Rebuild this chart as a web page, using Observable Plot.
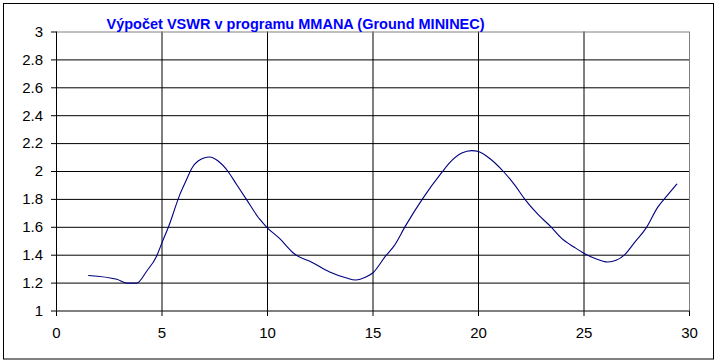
<!DOCTYPE html>
<html>
<head>
<meta charset="utf-8">
<script src="https://cdn.jsdelivr.net/npm/d3@7"></script>
<script src="https://cdn.jsdelivr.net/npm/@observablehq/plot@0.6"></script>
<style>
  html, body { margin: 0; padding: 0; background: #fff; }
  #chart svg { display: block; }
</style>
</head>
<body>
<div id="chart"></div>
<script>
const title = "Výpočet VSWR v programu MMANA (Ground MININEC)";
const freq = [1.52, 2.86, 3.33, 3.8, 4.28, 4.75, 5.0, 5.3, 5.85, 6.17, 6.4, 6.71, 7.26, 7.66, 8.13, 8.52, 9.0, 9.62, 9.97, 10.57, 11.27, 12.14, 12.92, 13.71, 14.18, 14.66, 15.0, 15.6, 16.0, 16.54, 17.33, 18.27, 18.66, 19.21, 19.68, 20.0, 20.47, 21.18, 21.73, 22.2, 22.83, 23.46, 23.93, 24.56, 24.95, 25.5, 26.13, 26.52, 26.92, 27.39, 27.94, 28.49, 28.96, 29.4];
const vswr = [1.255, 1.227, 1.2, 1.2, 1.287, 1.395, 1.49, 1.6, 1.836, 1.944, 2.02, 2.075, 2.104, 2.075, 2.0, 1.91, 1.80, 1.66, 1.60, 1.52, 1.41, 1.346, 1.281, 1.238, 1.222, 1.243, 1.274, 1.395, 1.467, 1.61, 1.80, 1.995, 2.067, 2.132, 2.15, 2.143, 2.10, 2.0, 1.90, 1.80, 1.69, 1.60, 1.522, 1.455, 1.418, 1.378, 1.351, 1.363, 1.402, 1.49, 1.594, 1.743, 1.83, 1.91];
const xTicks = [0, 5, 10, 15, 20, 25, 30];
const xTickLabels = ["0", "5", "10", "15", "20", "25", "30"];
const yTicks = [1, 1.2, 1.4, 1.6, 1.8, 2, 2.2, 2.4, 2.6, 2.8, 3];
const yTickLabels = ["1", "1.2", "1.4", "1.6", "1.8", "2", "2.2", "2.4", "2.6", "2.8", "3"];

const data = freq.map((f, i) => ({f, v: vswr[i]}));
const font = "'Liberation Sans', Arial, sans-serif";

const chart = Plot.plot({
  width: 718,
  height: 363,
  marginLeft: 56,
  marginRight: 29,
  marginTop: 31.5,
  marginBottom: 52.5,
  style: {fontFamily: font, fontSize: "15px", color: "#000", background: "#fff", overflow: "visible"},
  x: {domain: [0, 30], axis: null, label: null},
  y: {domain: [1, 3], axis: null, label: null},
  marks: [
    Plot.ruleX(xTicks.slice(1, -1), {stroke: "#000", strokeWidth: 1}),
    Plot.ruleY(yTicks.slice(1, -1), {stroke: "#000", strokeWidth: 1}),
    Plot.ruleX([30], {stroke: "#808080", strokeWidth: 1}),
    Plot.ruleY([3], {stroke: "#808080", strokeWidth: 1}),
    Plot.ruleX([0], {stroke: "#000", strokeWidth: 1}),
    Plot.ruleY([1], {stroke: "#000", strokeWidth: 1}),
    Plot.axisX({ticks: xTicks, tickFormat: (d, i) => xTickLabels[i], tickSize: 5.5, tickPadding: 11, stroke: "#000", fontSize: 15, fill: "#000", label: null}),
    Plot.axisY({ticks: yTicks, tickFormat: (d, i) => yTickLabels[i], tickSize: 5, tickPadding: 8.5, stroke: "#000", fontSize: 15, fill: "#000", label: null}),
    Plot.line(data, {x: "f", y: "v", stroke: "#000080", strokeWidth: 1.1, curve: "monotone-x"}),
    Plot.text([title], {frameAnchor: "top-left", dx: 50, dy: -13, textAnchor: "start", fill: "#0000ff", fontWeight: "bold", fontSize: 14.5, fontFamily: font})
  ]
});

d3.select(chart).append("rect")
  .attr("x", 3.5).attr("y", 3.5).attr("width", 710).attr("height", 355.5)
  .attr("fill", "none").attr("stroke", "#000").attr("stroke-width", 1);

document.getElementById("chart").appendChild(chart);
</script>
</body>
</html>
